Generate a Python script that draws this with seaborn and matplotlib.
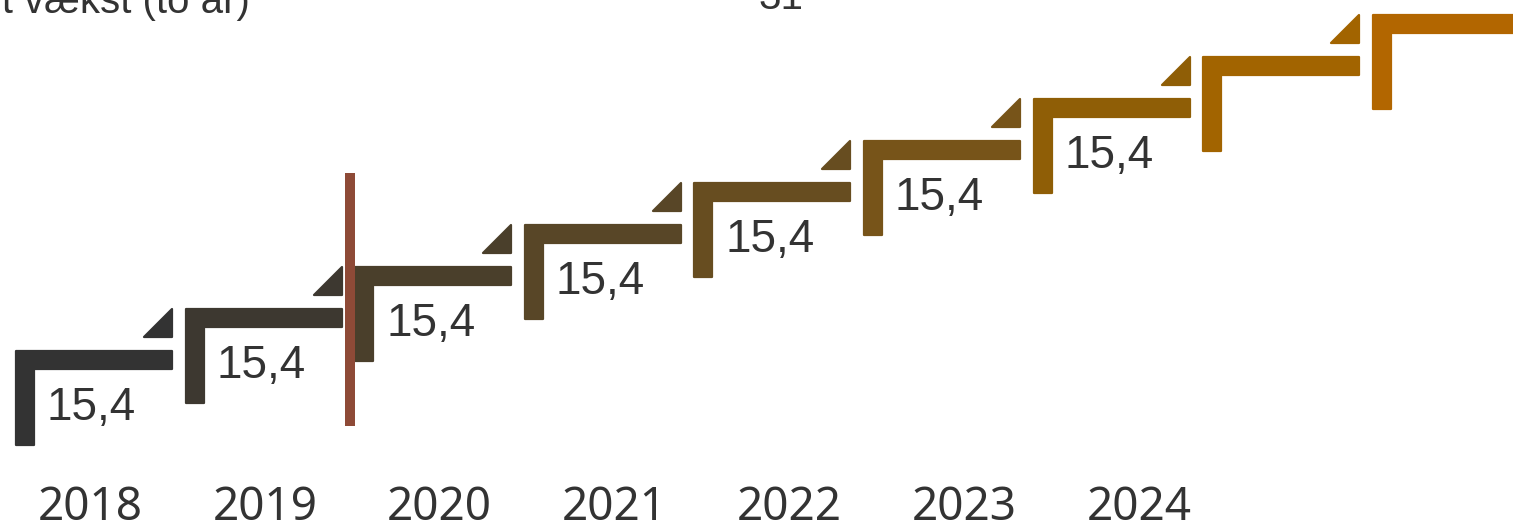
import numpy as np
import matplotlib
matplotlib.use("Agg")
import matplotlib.pyplot as plt
from matplotlib.patches import Polygon
import seaborn as sns

# ---- data ----
years = ["2018", "2019", "2020", "2021", "2022", "2023", "2024"]
growth = [15.4, 15.4, 15.4, 15.4, 15.4, 15.4, 15.4]        # labelled growth per year
extra_rises = [15.4, 15.4]                                   # unlabelled steps at the right
step_colors = ["#333333", "#3D3830", "#4A3F2B", "#584627", "#674D20",
               "#775419", "#8F5E06", "#A26400", "#B26600"]
divider_step = 2          # forecast divider before 2020
top_title = "Forventet vækst (to år)"
top_value = "31"

sns.set_theme(style="white")
plt.rcParams["font.family"] = ["Liberation Sans", "DejaVu Sans"]

rises = growth + extra_rises
levels = np.concatenate([[0.0], np.cumsum(rises)])[:len(step_colors)]
steps = np.arange(len(levels))

fig = plt.figure(figsize=(15.13, 5.27), dpi=100)
ax = fig.add_axes([0, 0, 1, 1])
ax.set_axis_off()

# scale: pixels per data unit
PX_X = 169.6
PX_Y = 42.0 / 15.4
ax.set_xlim(-15 / PX_X, (1513 - 15) / PX_X)
ax.set_ylim((350 - 527) / PX_Y, 350 / PX_Y)


def pts(x0, y0, offsets):
    return [(x0 + dx / PX_X, y0 - dy / PX_Y) for dx, dy in offsets]


L_SHAPE = [(1, 1), (157, 1), (157, 19), (19, 19), (19, 95), (1, 95)]
TRI = [(129, -13), (157, -13), (157, -41)]

for i, (x, y) in enumerate(zip(steps, levels)):
    c = step_colors[i]
    ax.add_patch(Polygon(pts(x, y, L_SHAPE), closed=True, facecolor=c,
                         edgecolor=c, linewidth=1.6, joinstyle="round"))
    if i < len(steps) - 1:
        ax.add_patch(Polygon(pts(x, y, TRI), closed=True, facecolor=c,
                             edgecolor=c, linewidth=1.6, joinstyle="round"))

# value labels
for i, g in enumerate(growth):
    lab = f"{g:.1f}".replace(".", ",")
    ax.text(steps[i] + 32 / PX_X, levels[i] - 70 / PX_Y, lab,
            ha="left", va="baseline", fontsize=33, color="#333333")

# divider
xd = steps[divider_step] - 4 / PX_X
ax.vlines(xd, levels[divider_step] - (426 - 266) / PX_Y,
          levels[divider_step] + (266 - 173) / PX_Y,
          color="#8E4A37", linewidth=7.2, zorder=5)

# year labels
for i, yr in enumerate(years):
    ax.text((90 - 15) / PX_X + i * 174.8 / PX_X, (350 - 520) / PX_Y, yr,
            ha="center", va="baseline", fontsize=33, color="#333333",
            family=["Noto Sans", "DejaVu Sans"])

# top (cut-off) texts
ax.text((250 - 15) / PX_X, (350 - 13) / PX_Y, top_title, ha="right",
        va="baseline", fontsize=29, color="#333333")
ax.text((781 - 15) / PX_X, (350 - 9) / PX_Y, top_value, ha="center",
        va="baseline", fontsize=29, color="#333333")

fig.savefig("out.png", dpi=100)
